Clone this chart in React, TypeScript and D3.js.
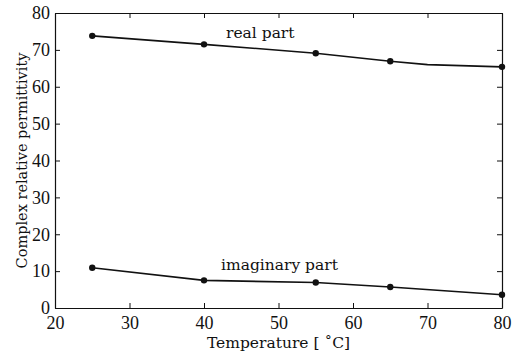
import React, { useEffect, useRef } from "react";
import * as d3 from "d3";

const realTemps = [25, 40, 55, 65, 70, 80];
const realValues = [73.8, 71.5, 69.1, 66.9, 66.0, 65.4];
const realMarkers = [25, 40, 55, 65, 80];

const imagTemps = [25, 40, 55, 65, 80];
const imagValues = [10.9, 7.5, 6.9, 5.7, 3.6];

const xTicks = [20, 30, 40, 50, 60, 70, 80];
const yTicks = [0, 10, 20, 30, 40, 50, 60, 70, 80];

const W = 522;
const H = 353;
const margin = { top: 13, right: 20, bottom: 45, left: 55 };
const TICK_FONT = "'Liberation Serif', serif";
const LABEL_FONT = "'DejaVu Serif', serif";

function PermittivityChart() {
  const svgRef = useRef<SVGSVGElement>(null);

  useEffect(() => {
    const svg = d3.select(svgRef.current);
    svg.selectAll("*").remove();

    const x = d3.scaleLinear().domain([20, 80]).range([margin.left, W - margin.right]);
    const y = d3.scaleLinear().domain([0, 80]).range([H - margin.bottom, margin.top]);

    const tick = 5;
    const g = svg.append("g");

    // inward ticks on all four sides
    g.append("g")
      .attr("transform", `translate(0,${y(0)})`)
      .call(d3.axisBottom(x).tickValues(xTicks).tickSizeInner(-tick).tickSizeOuter(0).tickPadding(8));
    g.append("g")
      .attr("transform", `translate(0,${y(80)})`)
      .call(d3.axisTop(x).tickValues(xTicks).tickSizeInner(-tick).tickSizeOuter(0).tickFormat(() => ""));
    g.append("g")
      .attr("transform", `translate(${x(20)},0)`)
      .call(d3.axisLeft(y).tickValues(yTicks).tickSizeInner(-tick).tickSizeOuter(0).tickPadding(5));
    g.append("g")
      .attr("transform", `translate(${x(80)},0)`)
      .call(d3.axisRight(y).tickValues(yTicks).tickSizeInner(-tick).tickSizeOuter(0).tickFormat(() => ""));

    g.selectAll(".domain").attr("stroke", "#111").attr("stroke-width", 1.2);
    g.selectAll(".tick line").attr("stroke", "#111");
    g.selectAll(".tick text")
      .style("font-family", TICK_FONT)
      .style("font-size", "18px")
      .attr("fill", "#111");

    const line = d3
      .line<[number, number]>()
      .x((d) => x(d[0]))
      .y((d) => y(d[1]));

    const realPts = realTemps.map((t, i) => [t, realValues[i]] as [number, number]);
    const imagPts = imagTemps.map((t, i) => [t, imagValues[i]] as [number, number]);

    [realPts, imagPts].forEach((pts) => {
      svg.append("path")
        .attr("d", line(pts))
        .attr("fill", "none")
        .attr("stroke", "#111")
        .attr("stroke-width", 1.6);
    });

    svg.append("g")
      .selectAll("circle")
      .data(realPts.filter((p) => realMarkers.includes(p[0])).concat(imagPts))
      .join("circle")
      .attr("cx", (d) => x(d[0]))
      .attr("cy", (d) => y(d[1]))
      .attr("r", 3.2)
      .attr("fill", "#111");

    const label = (tx: number, ty: number, s: string, size = 15.5) =>
      svg.append("text")
        .attr("x", tx)
        .attr("y", ty)
        .style("font-family", LABEL_FONT)
        .style("font-size", `${size}px`)
        .attr("fill", "#111")
        .text(s);

    label(226, 37.5, "real part");
    label(221, 270, "imaginary part");
    label((x(20) + x(80)) / 2, 348, "Temperature [ ˚C]").attr("text-anchor", "middle");
    label(0, 0, "Complex relative permittivity", 14.5)
      .attr("text-anchor", "middle")
      .attr("transform", `translate(26.5,160.5) rotate(-90)`);
  }, []);

  return <svg ref={svgRef} width={W} height={H} style={{ position: "absolute", left: 0, top: 0, background: "#fff" }} />;
}

export default function App() {
  return <PermittivityChart />;
}
